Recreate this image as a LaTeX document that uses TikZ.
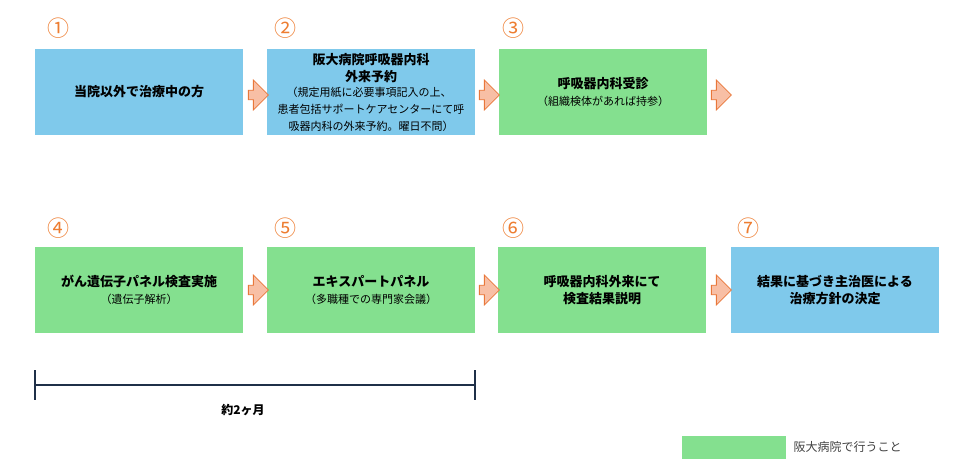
\documentclass[tikz,border=0pt]{standalone}
\usepackage{fontspec}
\setmainfont{Noto Sans CJK JP}
\usetikzlibrary{shapes.arrows,positioning}
\definecolor{blubox}{HTML}{7FC9EB}
\definecolor{grnbox}{HTML}{84E08F}
\definecolor{arrfill}{HTML}{F8BFA5}
\definecolor{arrline}{HTML}{E9773A}
\definecolor{numcol}{HTML}{ED7D31}
\definecolor{barcol}{HTML}{1F3048}
\newcommand\subtxt{\fontsize{11}{14}\selectfont\mdseries}
\tikzset{
  stepbox/.style={rectangle, minimum width=208pt, minimum height=86pt, align=center, font=\fontsize{13}{17}\selectfont\bfseries, inner sep=2pt},
  bluebox/.style={stepbox, fill=blubox},
  greenbox/.style={stepbox, fill=grnbox},
  flow/.style={single arrow, draw=arrline, fill=arrfill, line width=0.8pt, minimum width=30pt, single arrow head extend=3pt, minimum height=20pt, inner sep=1pt},
  num/.style={font=\fontsize{22}{22}\selectfont, text=numcol}
}
\begin{document}
\begin{tikzpicture}[x=1pt,y=-1pt]
    \useasboundingbox (0,0) rectangle (960,465);

    % Row 1
    \node[bluebox] (s1) at (139,92) {当院以外で治療中の方};
    \node[bluebox] (s2) at (371,92) {阪大病院呼吸器内科\\外来予約\\[-2pt]
        {\subtxt\hspace*{-4pt}（規定用紙に必要事項記入の上、}\\{\subtxt 患者包括サポートケアセンターにて呼}\\{\subtxt 吸器内科の外来予約。曜日不問）}};
    \node[greenbox] (s3) at (603,92) {呼吸器内科受診\\{\subtxt（組織検体があれば持参）}};

    % Row 2
    \node[greenbox] (s4) at (139,290) {がん遺伝子パネル検査実施\\{\subtxt（遺伝子解析）}};
    \node[greenbox] (s5) at (371,290) {エキスパートパネル\\{\subtxt（多職種での専門家会議）}};
    \node[greenbox] (s6) at (602,290) {呼吸器内科外来にて\\検査結果説明};
    \node[bluebox] (s7) at (835,290) {結果に基づき主治医による\\治療方針の決定};

    % Numbers
    \node[num] (n1) at (58,28) {①};
    \node[num] (n2) at (285,28) {②};
    \node[num] (n3) at (513,28) {③};
    \node[num] (n4) at (58,228) {④};
    \node[num] (n5) at (285,228) {⑤};
    \node[num] (n6) at (513,228) {⑥};
    \node[num] (n7) at (748,228) {⑦};

    % Flow arrows
    \node[flow] (a1) at (256,95) {};
    \node[flow] (a2) at (487,95) {};
    \node[flow] (a3) at (719,95) {};
    \node[flow] (a4) at (256,290) {};
    \node[flow] (a5) at (487,290) {};
    \node[flow] (a6) at (719,290) {};

    % Time span
    \coordinate (t0) at (35,385);
    \coordinate (t1) at (475,385);
    \draw[barcol, line width=2.5pt] (t0) -- (t1);
    \draw[barcol, line width=2.5pt] ([yshift=15pt]t0) -- ([yshift=-15pt]t0);
    \draw[barcol, line width=2.5pt] ([yshift=15pt]t1) -- ([yshift=-15pt]t1);
    \node[font=\fontsize{12}{12}\selectfont\bfseries] (span) at (243,410) {約2ヶ月};

    % Legend
    \node[fill=grnbox, minimum width=104pt, minimum height=23pt, inner sep=0pt] (key) at (734,447) {};
    \node[right=4pt of key, font=\fontsize{12}{12}\selectfont, text=black!75] (keytext) {阪大病院で行うこと};
\end{tikzpicture}
\end{document}
